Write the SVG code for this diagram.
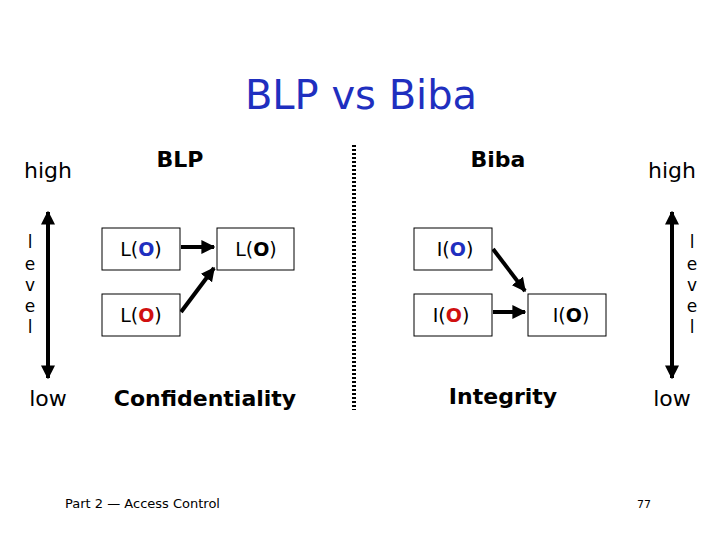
<svg xmlns="http://www.w3.org/2000/svg" width="720" height="540" viewBox="0 0 720 540">
<style>
text{font-family:"DejaVu Sans","Liberation Sans",sans-serif;fill:#000}
.box{fill:#fff;stroke:#000;stroke-width:1}
.n{font-size:19px;text-anchor:middle}
.lbl{font-size:22px}
.hd{font-size:22px;font-weight:bold;text-anchor:middle}
.lv{font-size:17px;text-anchor:middle}
.b{fill:#1f2fbf;font-weight:bold}
.r{fill:#d01010;font-weight:bold}
.k{font-weight:bold}
.ln{stroke:#000;stroke-width:4;fill:none}
</style>
<defs>
<marker id="ah" viewBox="0 0 10 10" refX="9" refY="5" markerWidth="3.5" markerHeight="3.5" orient="auto-start-reverse"><path d="M0,0L10,5L0,10z" fill="#000"/></marker>
</defs>
<rect width="720" height="540" fill="#fff"/>
<text x="361" y="109" font-size="40" text-anchor="middle" style="fill:#1f2fbf">BLP vs Biba</text>
<text x="48" y="178" class="lbl" text-anchor="middle">high</text>
<text x="48" y="406" class="lbl" text-anchor="middle">low</text>
<text x="672" y="178" class="lbl" text-anchor="middle">high</text>
<text x="672" y="406" class="lbl" text-anchor="middle">low</text>
<g><text x="30" y="248" class="lv">l</text><text x="30" y="270" class="lv">e</text><text x="30" y="291" class="lv">v</text><text x="30" y="312" class="lv">e</text><text x="30" y="333" class="lv">l</text>
<text x="692" y="248" class="lv">l</text><text x="692" y="270" class="lv">e</text><text x="692" y="291" class="lv">v</text><text x="692" y="312" class="lv">e</text><text x="692" y="333" class="lv">l</text></g>
<text x="180" y="167" class="hd">BLP</text>
<text x="498" y="167" class="hd">Biba</text>
<text x="205" y="406" class="hd">Confidentiality</text>
<text x="503" y="404" class="hd">Integrity</text>
<line x1="354" y1="145" x2="354" y2="410" stroke="#000" stroke-width="4" stroke-dasharray="2,2"/>
<g id="connectors">
<line class="ln" x1="48" y1="212" x2="48" y2="378" marker-start="url(#ah)" marker-end="url(#ah)"/>
<line class="ln" x1="672" y1="212" x2="672" y2="378" marker-start="url(#ah)" marker-end="url(#ah)"/>
<line class="ln" x1="181" y1="247" x2="214" y2="247" marker-end="url(#ah)"/>
<line class="ln" x1="181" y1="312" x2="214" y2="268" marker-end="url(#ah)"/>
<line class="ln" x1="493" y1="249" x2="525" y2="291" marker-end="url(#ah)"/>
<line class="ln" x1="493" y1="312" x2="525" y2="312" marker-end="url(#ah)"/>
</g>
<g id="blp1"><rect class="box" x="102" y="228" width="78" height="42"/><text class="n" x="141" y="256">L(<tspan class="b">O</tspan>)</text></g>
<g id="blp2"><rect class="box" x="217" y="228" width="77" height="42"/><text class="n" x="256" y="256">L(<tspan class="k">O</tspan>)</text></g>
<g id="blp3"><rect class="box" x="102" y="294" width="78" height="42"/><text class="n" x="141" y="322">L(<tspan class="r">O</tspan>)</text></g>
<g id="biba1"><rect class="box" x="414" y="228" width="78" height="42"/><text class="n" x="455" y="256">I(<tspan class="b">O</tspan>)</text></g>
<g id="biba2"><rect class="box" x="414" y="294" width="78" height="42"/><text class="n" x="451" y="322">I(<tspan class="r">O</tspan>)</text></g>
<g id="biba3"><rect class="box" x="528" y="294" width="78" height="42"/><text class="n" x="571" y="322">I(<tspan class="k">O</tspan>)</text></g>
<text x="65" y="508" font-size="13">Part 2 — Access Control</text>
<text x="637" y="508" font-size="11">77</text>
</svg>
